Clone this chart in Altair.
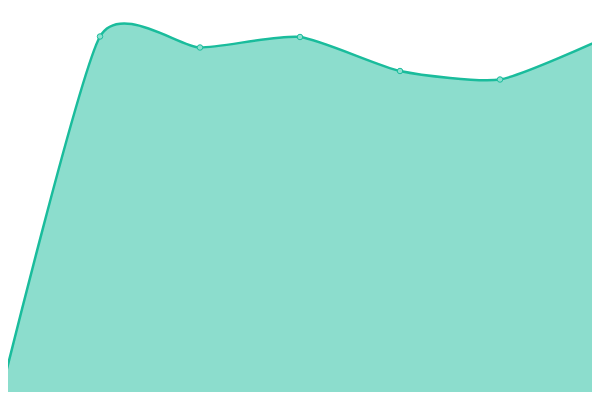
import altair as alt
import pandas as pd

# x positions (index) and heights measured up from the bottom of the reference (px of 400)
xs = [0, 1, 2, 3, 4, 5, 6]
values = [3, 363.5, 352.5, 363, 329, 320.5, 360]

df = pd.DataFrame({"x": xs, "v": values})

# plot area is 584x384 at page offset (8,8); domains chosen so page px == reference px
xscale = alt.Scale(domain=[0.08, 5.92], nice=False, zero=False)
yscale = alt.Scale(domain=[8, 392], nice=False, zero=False)

base = alt.Chart(df).encode(
    x=alt.X("x:Q", scale=xscale, axis=None),
    y=alt.Y("v:Q", scale=yscale, axis=None),
)

area = base.mark_area(interpolate="cardinal", tension=0.4, color="#1abc9c", opacity=0.5, clip=True)
line = base.mark_line(interpolate="cardinal", tension=0.4, color="#1abc9c", strokeWidth=2.5, clip=True)
pts = base.mark_point(filled=True, fill="#8ee0d0", stroke="#1abc9c", strokeWidth=1,
                      size=30, opacity=1, clip=True)

chart = (
    alt.layer(area, line, pts)
    .properties(width=584, height=384, padding=0, autosize=alt.AutoSizeParams(type="none"))
    .configure_view(stroke=None)
)

chart.save("out.html", embed_options={"renderer": "svg", "actions": False})
